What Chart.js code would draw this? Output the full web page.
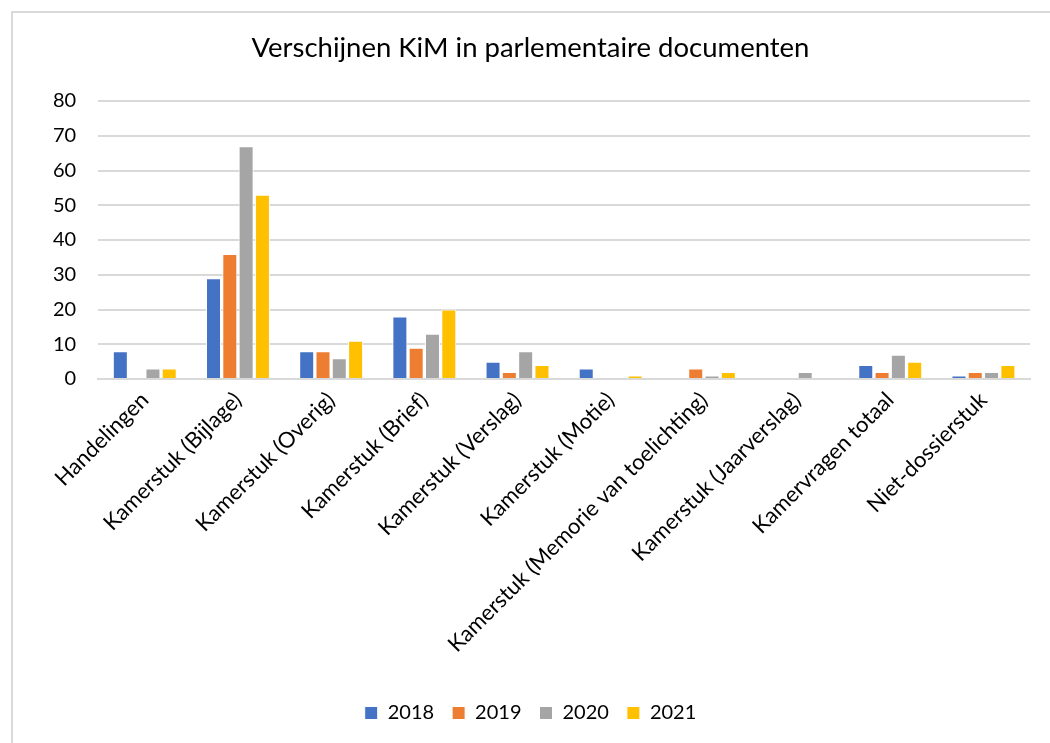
<!DOCTYPE html>
<html>
<head>
<meta charset="utf-8">
<script src="https://cdn.jsdelivr.net/npm/chart.js@4"></script>
<style>
  body { margin:0; background:#fff; overflow:hidden; }
  #frame { position:absolute; left:11px; top:11px; width:1100px; height:800px; border:2px solid #d9d9d9; }
  #wrap { position:absolute; left:0; top:0; width:1050px; height:743px; }
</style>
</head>
<body>
<div id="frame"></div>
<div id="wrap"><canvas id="myChart"></canvas></div>
<script>
var categories = ['Handelingen','Kamerstuk (Bijlage)','Kamerstuk (Overig)','Kamerstuk (Brief)','Kamerstuk (Verslag)','Kamerstuk (Motie)','Kamerstuk (Memorie van toelichting)','Kamerstuk (Jaarverslag)','Kamervragen totaal','Niet-dossierstuk'];
var v2018 = [8, 29, 8, 18, 5, 3, 0, 0, 4, 1];
var v2019 = [0, 36, 8, 9, 2, 0, 3, 0, 2, 2];
var v2020 = [3, 67, 6, 13, 8, 0, 1, 2, 7, 2];
var v2021 = [3, 53, 11, 20, 4, 1, 2, 0, 5, 4];
var yTicks = [0, 10, 20, 30, 40, 50, 60, 70, 80];

var ctx = document.getElementById('myChart').getContext('2d');
Chart.defaults.font.family = 'Lato, "Liberation Sans", sans-serif';
Chart.defaults.color = '#000';

function ds(label, data, col){
  return { label: label, data: data, backgroundColor: col, borderColor: '#fff', borderWidth: 1,
           categoryPercentage: 0.7, barPercentage: 0.92 };
}

var chart = new Chart(ctx, {
  type: 'bar',
  data: {
    labels: categories,
    datasets: [
      ds('2018', v2018, '#4472c4'),
      ds('2019', v2019, '#ed7d31'),
      ds('2020', v2020, '#a5a5a5'),
      ds('2021', v2021, '#ffc000')
    ]
  },
  options: {
    responsive: true,
    maintainAspectRatio: false,
    animation: false,
    layout: { padding: { left: 31, right: 20, top: 18, bottom: 10 } },
    plugins: {
      title: { display: true, text: 'Verschijnen KiM in parlementaire documenten', font: { size: 27.5, weight: 'normal' }, padding: { top: 14, bottom: 36 } },
      legend: { position: 'bottom', labels: { boxWidth: 13, boxHeight: 13, font: { size: 20 }, padding: 18 } },
      tooltip: { enabled: false }
    },
    scales: {
      x: {
        grid: { display: false },
        border: { color: '#d9d9d9', width: 2 },
        ticks: { minRotation: 45, maxRotation: 45, font: { size: 22 }, padding: 0 },
        afterFit: function(s){ s.height = 306; }
      },
      y: {
        min: 0, max: 80,
        afterBuildTicks: function(s){ s.ticks = yTicks.map(function(v){ return { value: v }; }); },
        grid: { color: '#d9d9d9', lineWidth: 2, drawTicks: false },
        border: { display: false },
        ticks: { font: { size: 20 }, padding: 22 }
      }
    }
  }
});
</script>
</body>
</html>
